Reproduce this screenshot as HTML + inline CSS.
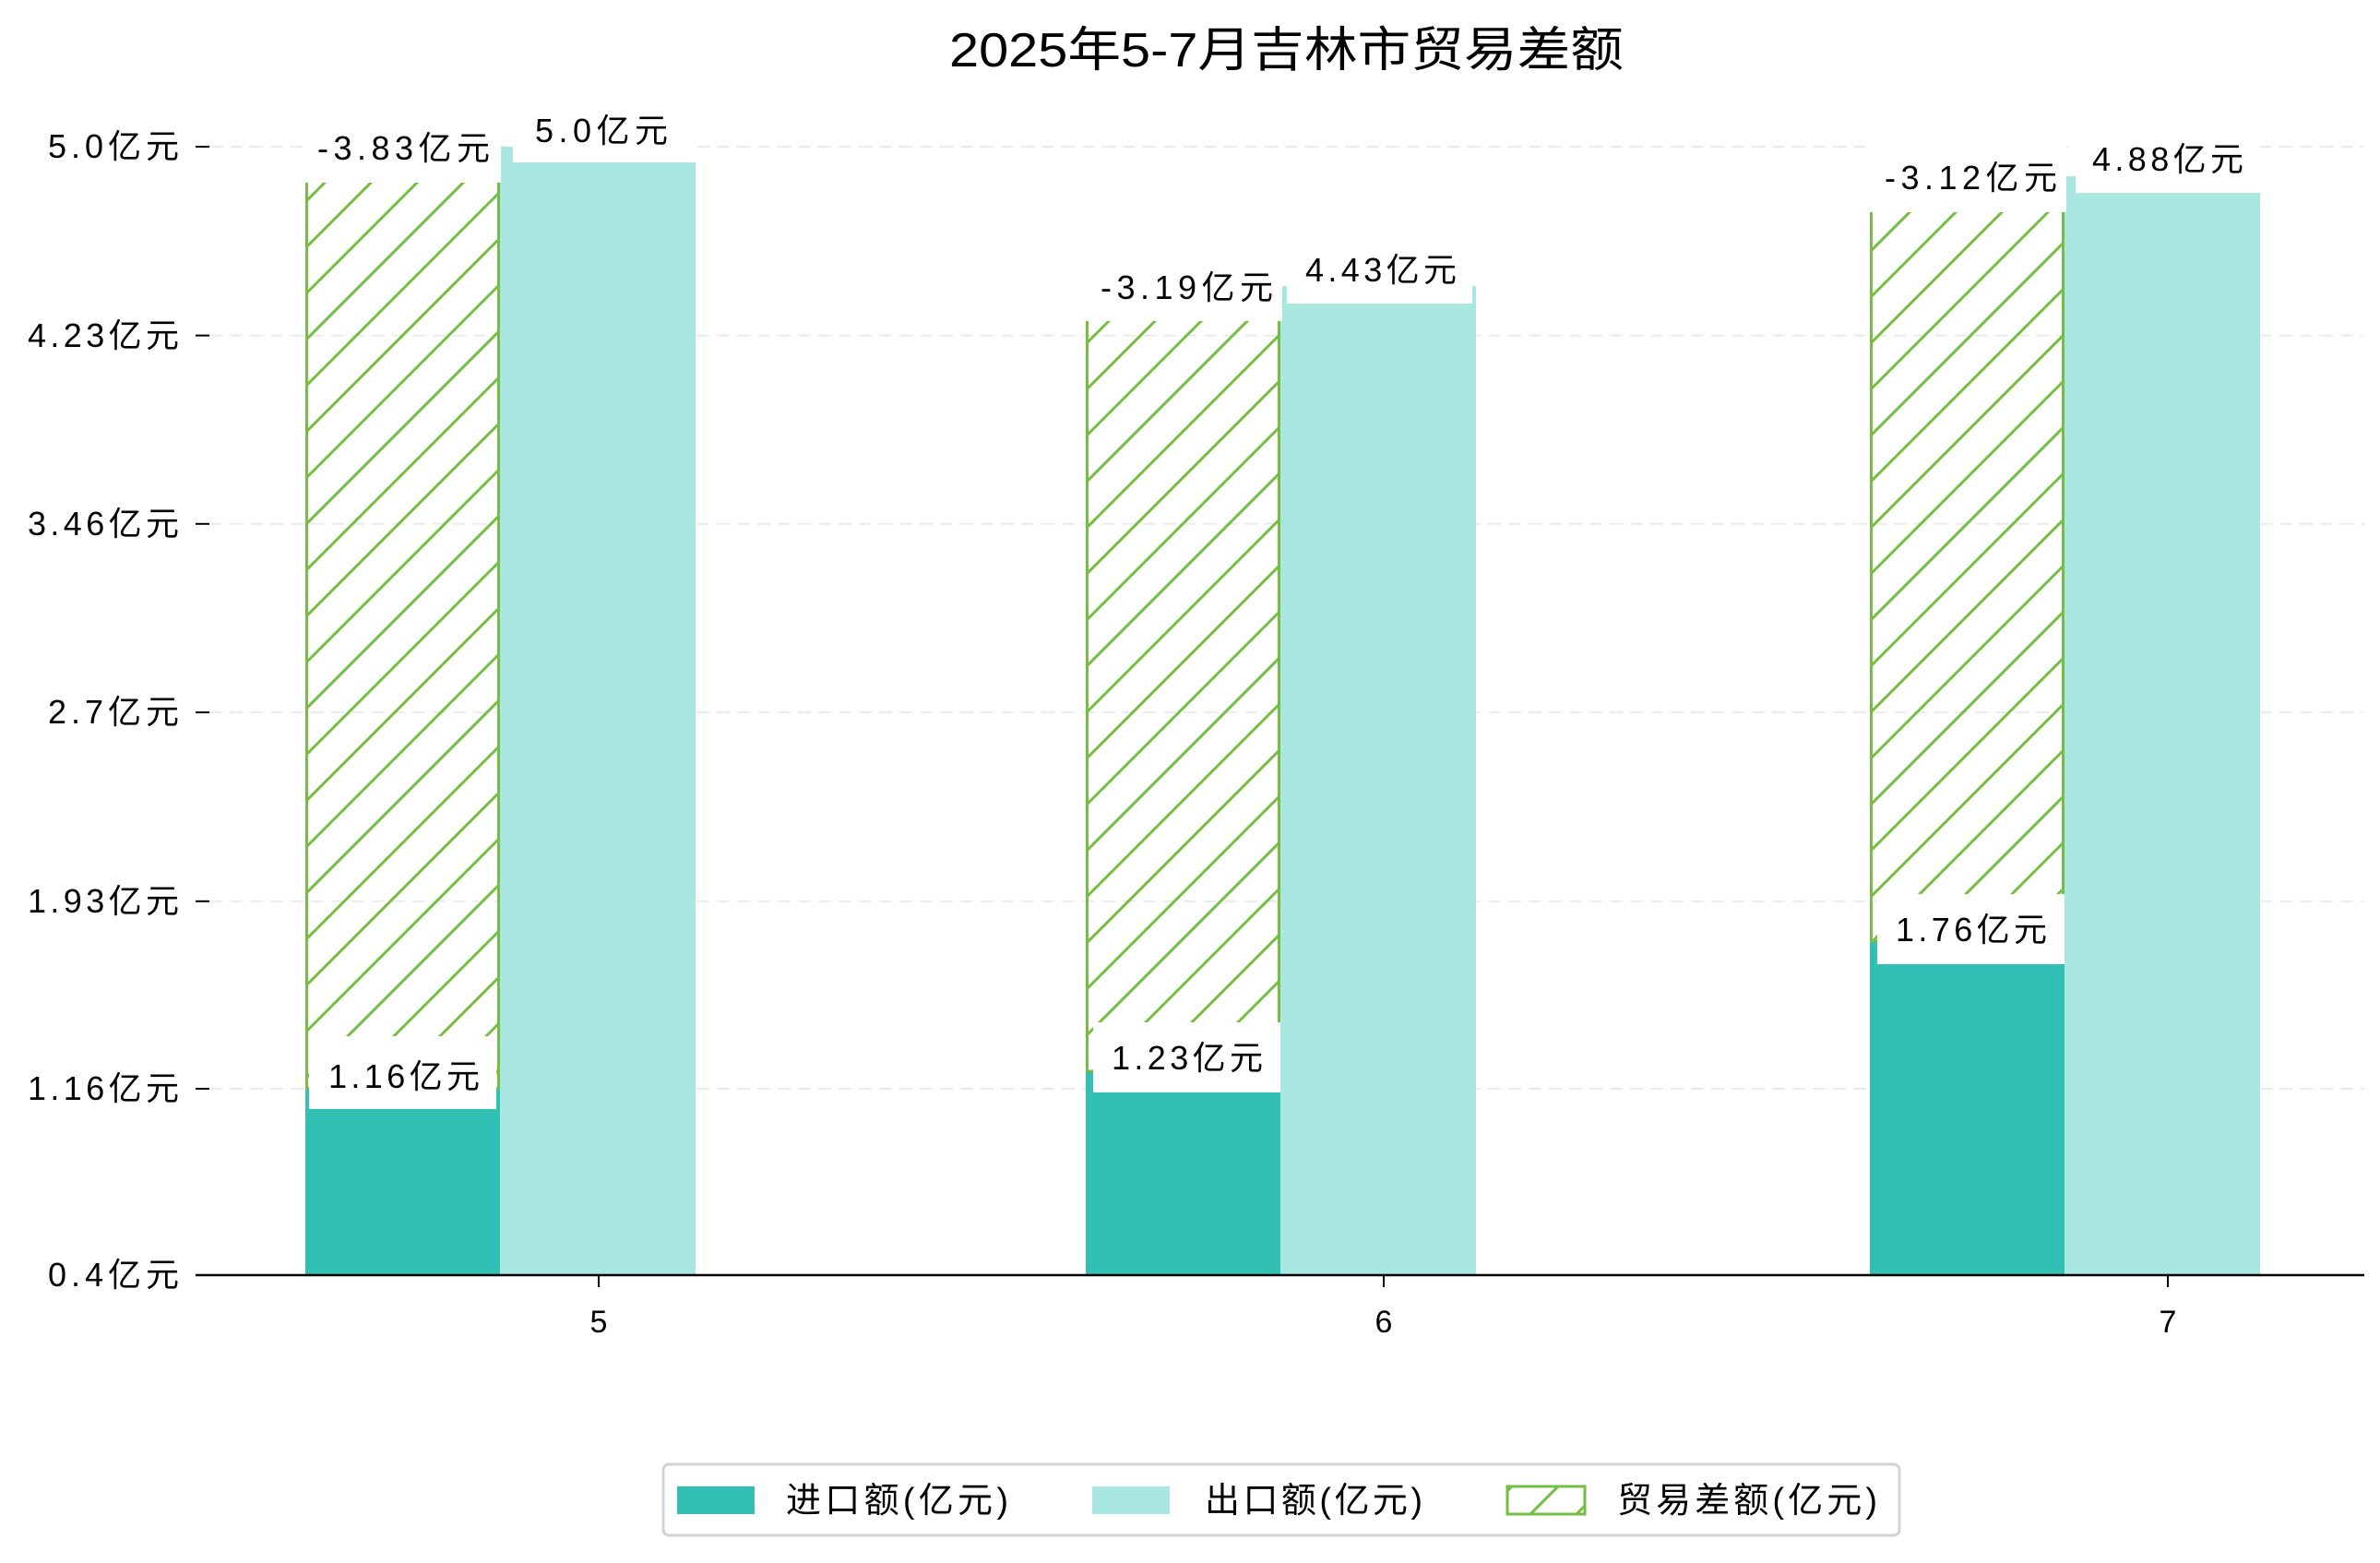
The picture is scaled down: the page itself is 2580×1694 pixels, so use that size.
<!DOCTYPE html>
<html><head><meta charset="utf-8"><style>
html,body{margin:0;padding:0;background:#fff;}
svg text{font-family:"Liberation Sans","WenQuanYi Zen Hei","Noto Sans CJK SC",sans-serif;fill:#000;}
</style></head><body>
<svg width="2580" height="1689" viewBox="0 0 2580 1689" xmlns="http://www.w3.org/2000/svg">
<defs>
<pattern id="h" patternUnits="userSpaceOnUse" width="50" height="50">
<line x1="-5" y1="55" x2="55" y2="-5" stroke="#76bd43" stroke-width="3"/>
<line x1="-30" y1="30" x2="30" y2="-30" stroke="#76bd43" stroke-width="3"/>
<line x1="20" y1="80" x2="80" y2="20" stroke="#76bd43" stroke-width="3"/>
</pattern>
</defs>
<text x="1029" y="72" font-size="52" textLength="731" lengthAdjust="spacingAndGlyphs">2025年5-7月吉林市贸易差额</text>
<g stroke="#ebebeb" stroke-width="2" stroke-dasharray="14,8">
<line x1="227" y1="159" x2="2563" y2="159"/>
<line x1="227" y1="363.6" x2="2563" y2="363.6"/>
<line x1="227" y1="567.8" x2="2563" y2="567.8"/>
<line x1="227" y1="772.1" x2="2563" y2="772.1"/>
<line x1="227" y1="976.8" x2="2563" y2="976.8"/>
<line x1="227" y1="1180" x2="2563" y2="1180"/>
</g>
<g stroke="#000" stroke-width="2">
<line x1="212" y1="159" x2="227" y2="159"/>
<line x1="212" y1="363.6" x2="227" y2="363.6"/>
<line x1="212" y1="567.8" x2="227" y2="567.8"/>
<line x1="212" y1="772.1" x2="227" y2="772.1"/>
<line x1="212" y1="976.8" x2="227" y2="976.8"/>
<line x1="212" y1="1180" x2="227" y2="1180"/>
<line x1="212" y1="1382" x2="227" y2="1382"/>
</g>
<g font-size="36">
<text x="52" y="171" textLength="142" lengthAdjust="spacing">5.0亿元</text>
<text x="30" y="376" textLength="164" lengthAdjust="spacing">4.23亿元</text>
<text x="30" y="580" textLength="164" lengthAdjust="spacing">3.46亿元</text>
<text x="52" y="784" textLength="142" lengthAdjust="spacing">2.7亿元</text>
<text x="30" y="989" textLength="164" lengthAdjust="spacing">1.93亿元</text>
<text x="30" y="1192" textLength="164" lengthAdjust="spacing">1.16亿元</text>
<text x="52" y="1394" textLength="142" lengthAdjust="spacing">0.4亿元</text>
</g>
<!-- bars -->
<rect x="331" y="1180" width="211" height="202" fill="#31c0b3"/>
<rect x="542" y="159" width="212" height="1223" fill="#a9e7e1"/>
<rect x="1177" y="1161" width="211" height="221" fill="#31c0b3"/>
<rect x="1388" y="310" width="212" height="1072" fill="#a9e7e1"/>
<rect x="2027" y="1020" width="211" height="362" fill="#31c0b3"/>
<rect x="2238" y="191" width="212" height="1191" fill="#a9e7e1"/>
<rect x="332.5" y="161.5" width="208" height="1018" fill="url(#h)" stroke="#76bd43" stroke-width="3"/>
<rect x="1178.5" y="313" width="208" height="848" fill="url(#h)" stroke="#76bd43" stroke-width="3"/>
<rect x="2028.5" y="191" width="208" height="829" fill="url(#h)" stroke="#76bd43" stroke-width="3"/>
<!-- label boxes -->
<g fill="#fff">
<rect x="328" y="122" width="215" height="76"/>
<rect x="556" y="104" width="200" height="72"/>
<rect x="335" y="1123" width="203" height="79"/>
<rect x="1174" y="272" width="216" height="76"/>
<rect x="1395" y="255" width="201" height="74"/>
<rect x="1185" y="1108" width="203" height="76"/>
<rect x="2024" y="154" width="216" height="76"/>
<rect x="2250" y="135" width="200" height="74"/>
<rect x="2035" y="969" width="203" height="76"/>
</g>
<g font-size="36">
<text x="344" y="173" textLength="187" lengthAdjust="spacing">-3.83亿元</text>
<text x="580" y="154" textLength="144" lengthAdjust="spacing">5.0亿元</text>
<text x="356" y="1179" textLength="164" lengthAdjust="spacing">1.16亿元</text>
<text x="1193" y="324" textLength="187" lengthAdjust="spacing">-3.19亿元</text>
<text x="1415" y="305" textLength="164" lengthAdjust="spacing">4.43亿元</text>
<text x="1205" y="1159" textLength="164" lengthAdjust="spacing">1.23亿元</text>
<text x="2043" y="205" textLength="187" lengthAdjust="spacing">-3.12亿元</text>
<text x="2268" y="185" textLength="164" lengthAdjust="spacing">4.88亿元</text>
<text x="2055" y="1020" textLength="164" lengthAdjust="spacing">1.76亿元</text>
</g>
<line x1="212" y1="1382" x2="2563" y2="1382" stroke="#000" stroke-width="2.5"/>
<g stroke="#000" stroke-width="2">
<line x1="649" y1="1382" x2="649" y2="1395"/>
<line x1="1500" y1="1382" x2="1500" y2="1395"/>
<line x1="2350" y1="1382" x2="2350" y2="1395"/>
</g>
<g font-size="34" text-anchor="middle">
<text x="649" y="1444">5</text>
<text x="1500" y="1444">6</text>
<text x="2350" y="1444">7</text>
</g>
<!-- legend -->
<rect x="719" y="1587" width="1340" height="77" rx="6" fill="#fff" stroke="#d3d3d3" stroke-width="3"/>
<rect x="734" y="1611" width="84" height="30" fill="#31c0b3"/>
<rect x="1184" y="1611" width="84" height="30" fill="#a9e7e1"/>
<rect x="1634" y="1611" width="84" height="30" fill="url(#h)" stroke="#76bd43" stroke-width="3"/>
<g font-size="38">
<text x="852" y="1639" textLength="241" lengthAdjust="spacing">进口额(亿元)</text>
<text x="1306" y="1639" textLength="236" lengthAdjust="spacing">出口额(亿元)</text>
<text x="1753" y="1639" textLength="282" lengthAdjust="spacing">贸易差额(亿元)</text>
</g>
</svg>
</body></html>
